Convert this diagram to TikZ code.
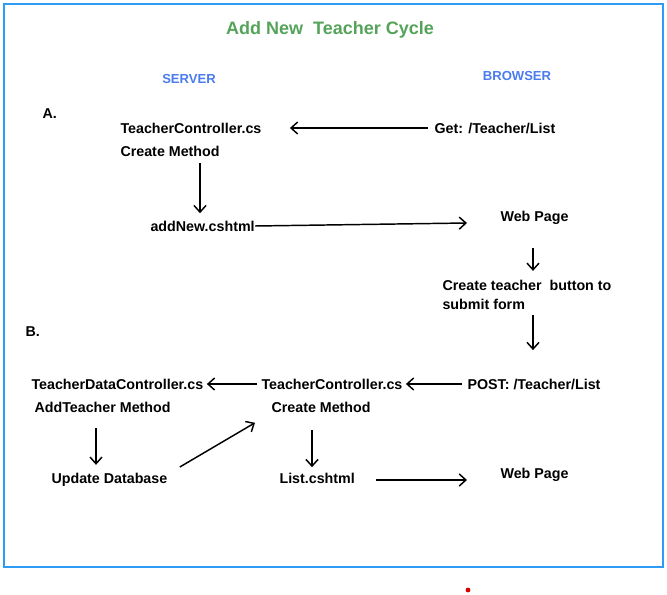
\documentclass[tikz,border=0pt]{standalone}
\usepackage{fontspec}
\setmainfont{Liberation Sans}
\usetikzlibrary{calc,arrows.meta}

\definecolor{frameblue}{HTML}{2E9BF5}
\definecolor{headblue}{HTML}{4A7CEF}
\definecolor{titlegreen}{HTML}{55A35A}

\begin{document}
\begin{tikzpicture}[x=0.75pt, y=-0.75pt, thick,
    lbl/.style={anchor=west, inner sep=0pt, font=\fontsize{10.7}{12}\selectfont\bfseries},
    side/.style={inner sep=0pt, text=headblue, font=\fontsize{9.8}{11}\selectfont\bfseries},
    arr/.style={->, >={Straight Barb[length=5pt, width=9pt]}, line width=1.1pt}]
        \useasboundingbox (0,0) rectangle (667,595);
        \draw[frameblue, line width=2pt] (4,4) rectangle (663,567);
        \fill[red!85!black] (468,590) circle (2.4);

        \node[inner sep=0pt, text=titlegreen, font=\fontsize{13.5}{15}\selectfont\bfseries] (title) at (330,30) {Add New\ \ Teacher Cycle};
        \node[side] (server) at (189,79) {SERVER};
        \node[side] (browser) at (517,76) {BROWSER};

        % part A
        \node[lbl] (partA) at (42,114) {A.};
        \node[lbl] (tcA) at (120,128) {TeacherController.cs};
        \node[lbl] (cmA) at (120,151) {Create Method};
        \node[lbl] (getreq) at (434,128) {Get: /Teacher/List};
        \node[lbl] (addnew) at (150,226) {addNew.cshtml};
        \node[lbl] (webA) at (500,218) {Web Page};
        \node[lbl, align=left] (submit) at (442,295) {Create teacher\ \ button to\\[2pt]submit form};

        \draw[arr] ($(getreq.west)+(-6,0)$) -- ($(tcA.east)+(28,0)$);
        \draw[arr] ($(cmA.south west)+(80,6)$) -- ($(addnew.north west)+(50,-7)$);
        \draw[arr] (addnew.east) -- ($(webA.west)+(-33,5)$);
        \draw[arr] ($(webA.south west)+(33,23)$) -- ($(submit.north west)+(91,-9)$);
        \draw[arr] ($(submit.south west)+(91,5)$) -- ($(submit.south west)+(91,40)$);

        % part B
        \node[lbl] (partB) at (25,332) {B.};
        \node[lbl] (tdc) at (31,384) {TeacherDataController.cs};
        \node[lbl] (addtm) at (34,407) {AddTeacher Method};
        \node[lbl] (tcB) at (261,384) {TeacherController.cs};
        \node[lbl] (cmB) at (271,407) {Create Method};
        \node[lbl] (postreq) at (467,384) {POST: /Teacher/List};
        \node[lbl] (updb) at (51,480) {Update Database};
        \node[lbl] (listv) at (279,478) {List.cshtml};
        \node[lbl] (webB) at (500,475) {Web Page};

        \draw[arr] ($(postreq.west)+(-5,0)$) -- ($(tcB.east)+(3,0)$);
        \draw[arr] ($(tcB.west)+(-4,0)$) -- ($(tdc.east)+(3,0)$);
        \draw[arr] ($(addtm.south west)+(62,15)$) -- ($(updb.north west)+(45,-8)$);
        \draw[arr] ($(updb.east)+(12,-13)$) -- ($(cmB.south west)+(-16,10)$);
        \draw[arr] ($(cmB.south west)+(41,17)$) -- ($(listv.north west)+(33,-5)$);
        \draw[arr] ($(listv.east)+(21,2)$) -- ($(webB.west)+(-33,5)$);

    \end{tikzpicture}
\end{document}
